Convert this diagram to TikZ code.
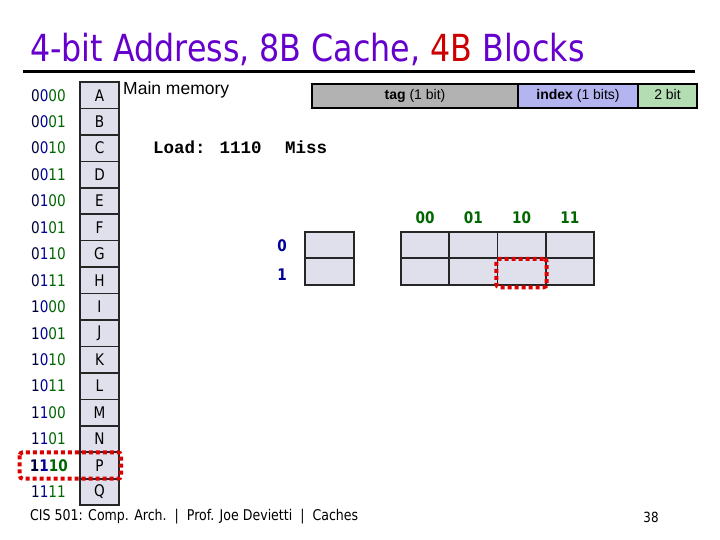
\documentclass[tikz,border=0pt]{standalone}
\usepackage{fontspec}
\setmainfont{Liberation Sans}
\newfontfamily\tahoma[FakeStretch=0.85]{DejaVu Sans}
\newfontfamily\courierb{Liberation Mono}
\usetikzlibrary{positioning,fit}

\definecolor{titlepurple}{RGB}{102,0,204}
\definecolor{titlered}{RGB}{204,0,0}
\definecolor{cellfill}{RGB}{223,224,236}
\definecolor{tagc}{RGB}{0,0,51}
\definecolor{idxc}{RGB}{0,0,153}
\definecolor{offc}{RGB}{0,102,0}
\definecolor{taggrey}{RGB}{178,178,178}
\definecolor{idxblue}{RGB}{180,180,240}
\definecolor{offgreen}{RGB}{180,221,180}
\definecolor{hired}{RGB}{220,0,0}

% address digits: tag | index | offset
\newcommand{\adr}[3]{\textcolor{tagc}{#1}\textcolor{idxc}{#2}\textcolor{offc}{#3}}

\begin{document}
\begin{tikzpicture}[x=1pt,y=-1pt,node distance=0pt,
  memcell/.style={draw=black!85, line width=1.6pt, fill=cellfill, minimum width=39pt, minimum height=26.45pt, inner sep=0pt, outer sep=0pt, font=\tahoma\fontsize{16}{16}\selectfont},
  addr/.style={inner sep=0pt, font=\tahoma\fontsize{16}{16}\selectfont},
  cachecell/.style={draw=black!85, line width=1.6pt, fill=cellfill, minimum height=26.5pt, inner sep=0pt, outer sep=0pt},
  bar/.style={draw, line width=2.5pt, minimum height=24pt, text height=10pt, text depth=3pt, inner sep=0pt, outer sep=0pt, font=\fontsize{14}{14}\selectfont},
  rowlab/.style={inner sep=0pt, text=idxc, font=\tahoma\bfseries\fontsize{16}{16}\selectfont},
  collab/.style={inner sep=0pt, text=offc, font=\tahoma\bfseries\fontsize{16}{16}\selectfont},
  hilite/.style={draw=hired, line width=4pt, dash pattern=on 4pt off 3pt, rounded corners=3pt}]
\useasboundingbox[fill=white] (0,0) rectangle (720,540);

% title
\node[anchor=base west, inner sep=0pt, text=titlepurple, font=\tahoma\fontsize{37.3}{37.3}\selectfont] (title) at (30,62) {4-bit Address, 8B Cache, \textcolor{titlered}{4B} Blocks};
\draw[line width=3pt] (23,72) -- (695,72);

% main memory
\node[memcell] (m0) at (99.5,95.2) {A};
\node[memcell, below=of m0] (m1) {B};
\node[memcell, below=of m1] (m2) {C};
\node[memcell, below=of m2] (m3) {D};
\node[memcell, below=of m3] (m4) {E};
\node[memcell, below=of m4] (m5) {F};
\node[memcell, below=of m5] (m6) {G};
\node[memcell, below=of m6] (m7) {H};
\node[memcell, below=of m7] (m8) {I};
\node[memcell, below=of m8] (m9) {J};
\node[memcell, below=of m9] (m10) {K};
\node[memcell, below=of m10] (m11) {L};
\node[memcell, below=of m11] (m12) {M};
\node[memcell, below=of m12] (m13) {N};
\node[memcell, below=of m13] (m14) {P};
\node[memcell, below=of m14] (m15) {Q};
\node[anchor=north west, inner sep=0pt, font=\fontsize{17.5}{17.5}\selectfont] (mmlabel) at ([xshift=4pt]m0.north east) {Main memory};

% addresses
\node[addr, left=14pt of m0] (a0) {\adr{0}{0}{00}};
\node[addr, left=14pt of m1] (a1) {\adr{0}{0}{01}};
\node[addr, left=14pt of m2] (a2) {\adr{0}{0}{10}};
\node[addr, left=14pt of m3] (a3) {\adr{0}{0}{11}};
\node[addr, left=14pt of m4] (a4) {\adr{0}{1}{00}};
\node[addr, left=14pt of m5] (a5) {\adr{0}{1}{01}};
\node[addr, left=14pt of m6] (a6) {\adr{0}{1}{10}};
\node[addr, left=14pt of m7] (a7) {\adr{0}{1}{11}};
\node[addr, left=14pt of m8] (a8) {\adr{1}{0}{00}};
\node[addr, left=14pt of m9] (a9) {\adr{1}{0}{01}};
\node[addr, left=14pt of m10] (a10) {\adr{1}{0}{10}};
\node[addr, left=14pt of m11] (a11) {\adr{1}{0}{11}};
\node[addr, left=14pt of m12] (a12) {\adr{1}{1}{00}};
\node[addr, left=14pt of m13] (a13) {\adr{1}{1}{01}};
\node[addr, left=12pt of m14] (a14) {\bfseries\adr{1}{1}{10}};
\node[addr, left=14pt of m15] (a15) {\adr{1}{1}{11}};
\draw[hilite] ([xshift=-10pt]a14.west |- m14.north) rectangle ([xshift=2pt]m14.south east);

% address split
\node[bar, fill=taggrey, minimum width=206pt] (tagf) at (415,96) {\textbf{tag} (1 bit)};
\node[bar, fill=idxblue, minimum width=120pt, right=of tagf] (idxf) {\textbf{index} (1 bits)};
\node[bar, fill=offgreen, minimum width=59pt, right=of idxf] (offf) {2 bit};

% access
\node[anchor=west, inner sep=0pt, font=\courierb\bfseries\fontsize{17.5}{17.5}\selectfont] (load) at (153,147) {Load: 1110};
\node[inner sep=0pt, font=\courierb\bfseries\fontsize{17.5}{17.5}\selectfont, right=23pt of load] (result) {Miss};

% cache tags
\node[cachecell, minimum width=49pt] (t0) at (329.5,245) {};
\node[cachecell, minimum width=49pt, below=of t0] (t1) {};
\node[rowlab, left=18pt of t0, yshift=-1pt] (r0) {0};
\node[rowlab, left=18pt of t1, yshift=-3.5pt] (r1) {1};

% cache data
\node[cachecell, minimum width=48.25pt] (s0b0) at (425.1,245) {};
\node[cachecell, minimum width=48.25pt, right=of s0b0] (s0b1) {};
\node[cachecell, minimum width=48.25pt, right=of s0b1] (s0b2) {};
\node[cachecell, minimum width=48.25pt, right=of s0b2] (s0b3) {};
\node[cachecell, minimum width=48.25pt, below=of s0b0] (s1b0) {};
\node[cachecell, minimum width=48.25pt, right=of s1b0] (s1b1) {};
\node[cachecell, minimum width=48.25pt, right=of s1b1] (s1b2) {};
\node[cachecell, minimum width=48.25pt, right=of s1b2] (s1b3) {};
\node[collab, above=8pt of s0b0] (o0) {00};
\node[collab, above=8pt of s0b1] (o1) {01};
\node[collab, above=8pt of s0b2] (o2) {10};
\node[collab, above=8pt of s0b3] (o3) {11};
\node[hilite, fit=(s1b2), inner sep=1pt, yshift=-1.5pt] (sel) {};

% footer
\node[anchor=west, inner sep=0pt, font=\tahoma\fontsize{14.8}{14.8}\selectfont] (foot) at (30,517) {CIS 501: Comp. Arch.\ \ |\ \ Prof. Joe Devietti\ \ |\ \ Caches};
\node[inner sep=0pt, font=\tahoma\fontsize{14}{14}\selectfont] (page) at (651,517) {38};
\end{tikzpicture}
\end{document}
